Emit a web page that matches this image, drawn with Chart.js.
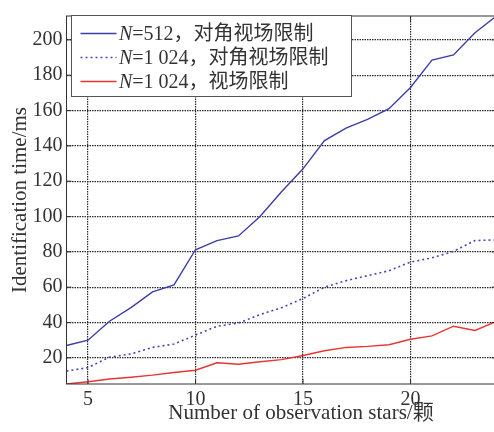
<!DOCTYPE html>
<html>
<head>
<meta charset="utf-8">
<script src="https://cdn.jsdelivr.net/npm/chart.js@4/dist/chart.umd.min.js"></script>
<style>
  html, body { margin: 0; padding: 0; background: #fff; overflow: hidden; }
  #wrap { width: 494px; height: 432px; overflow: hidden; }
  canvas { display: block; }
</style>
</head>
<body>
<div id="wrap"><canvas id="c" width="500" height="432"></canvas></div>
<script>
// Number of observed stars
const starCounts = [4, 5, 6, 7, 8, 9, 10, 11, 12, 13, 14, 15, 16, 17, 18, 19, 20, 21, 22, 23, 24];
// Identification time (ms), N=512 with diagonal field-of-view limit
const timeN512Diag = [27, 30, 40.7, 48.4, 57.3, 61.3, 81.2, 86.4, 89, 100, 114, 127, 143, 150, 155, 161, 173, 188.5, 191.5, 204, 213.5];
// Identification time (ms), N=1024 with diagonal field-of-view limit
const timeN1024Diag = [12.5, 14.5, 20.4, 22.2, 25.9, 27.8, 32.9, 37.9, 39.7, 44.5, 48.4, 53.6, 60, 63.7, 66.5, 69.3, 74.2, 76.6, 80.3, 86.4, 86.8];
// Identification time (ms), N=1024 with field-of-view limit
const timeN1024Fov = [5.2, 6.5, 8, 9, 10.2, 11.7, 13, 17.2, 16.4, 17.8, 19, 21.3, 24, 25.9, 26.5, 27.4, 30.5, 32.4, 37.9, 35.5, 40.7];

const seriesLabels = ['N=512，对角视场限制', 'N=1 024，对角视场限制', 'N=1 024，视场限制'];
const xTickValues = [5, 10, 15, 20];
const yTickValues = [20, 40, 60, 80, 100, 120, 140, 160, 180, 200];
const xRange = [4, 24];
const yRange = [5.2, 213.5];
const xTitle = 'Number of observation stars/颗';
const yTitle = 'Identification time/ms';

const SERIF = '"Liberation Serif", "Noto Sans CJK SC", serif';
const INK = '#333';

const toPoints = ys => starCounts.map((x, i) => ({ x, y: ys[i] }));

// Box around the axes with inward tick marks, drawn MATLAB-style
const axesBox = {
  id: 'axesBox',
  afterDatasetsDraw(chart) {
    const { ctx, chartArea: a, scales } = chart;
    ctx.save();
    ctx.strokeStyle = INK;
    ctx.lineWidth = 1;
    ctx.setLineDash([]);
    ctx.beginPath();
    xTickValues.forEach(v => {
      const px = scales.x.getPixelForValue(v);
      ctx.moveTo(px, a.bottom); ctx.lineTo(px, a.bottom - 5);
      ctx.moveTo(px, a.top); ctx.lineTo(px, a.top + 5);
    });
    yTickValues.forEach(v => {
      const py = scales.y.getPixelForValue(v);
      ctx.moveTo(a.left, py); ctx.lineTo(a.left + 5, py);
      ctx.moveTo(a.right, py); ctx.lineTo(a.right - 5, py);
    });
    ctx.stroke();
    ctx.strokeRect(a.left, a.top, a.right - a.left, a.bottom - a.top);
    ctx.restore();
  }
};

// Axis titles
const axisTitles = {
  id: 'axisTitles',
  afterDraw(chart) {
    const { ctx } = chart;
    ctx.save();
    ctx.fillStyle = INK;
    ctx.font = '21px ' + SERIF;
    ctx.textAlign = 'center';
    ctx.textBaseline = 'middle';
    ctx.fillText(xTitle, 301, 413);
    ctx.translate(20, 200);
    ctx.rotate(-Math.PI / 2);
    ctx.fillText(yTitle, 0, 0);
    ctx.restore();
  }
};

// Legend box with an italic "N" in each entry
const boxLegend = {
  id: 'boxLegend',
  afterDraw(chart) {
    const { ctx } = chart;
    const bx = 71.5, by = 15.5, bw = 280, bh = 81;
    ctx.save();
    ctx.fillStyle = '#fff';
    ctx.fillRect(bx, by, bw, bh);
    ctx.strokeStyle = '#555';
    ctx.lineWidth = 1;
    ctx.setLineDash([]);
    ctx.strokeRect(bx, by, bw, bh);
    chart.data.datasets.forEach((ds, i) => {
      const y = 33.5 + i * 24;
      ctx.beginPath();
      ctx.strokeStyle = ds.borderColor;
      ctx.lineWidth = ds.borderWidth;
      ctx.setLineDash(ds.borderDash || []);
      ctx.moveTo(80.5, y); ctx.lineTo(116.5, y);
      ctx.stroke();
      ctx.setLineDash([]);
      ctx.fillStyle = INK;
      ctx.textBaseline = 'middle';
      ctx.textAlign = 'left';
      const label = ds.label;
      ctx.font = 'italic 20px ' + SERIF;
      ctx.fillText(label[0], 119, y + 1);
      const w = ctx.measureText(label[0]).width;
      ctx.font = '20px ' + SERIF;
      ctx.fillText(label.slice(1), 119 + w, y + 1);
    });
    ctx.restore();
  }
};

new Chart(document.getElementById('c'), {
  type: 'line',
  data: {
    datasets: [
      { label: seriesLabels[0], data: toPoints(timeN512Diag), borderColor: '#3d3da8', borderWidth: 1.4 },
      { label: seriesLabels[1], data: toPoints(timeN1024Diag), borderColor: '#4848b0', borderWidth: 1.6, borderDash: [2, 3] },
      { label: seriesLabels[2], data: toPoints(timeN1024Fov), borderColor: '#e83530', borderWidth: 1.4 }
    ]
  },
  options: {
    responsive: false,
    animation: false,
    devicePixelRatio: 1,
    layout: { padding: { top: 7.3, right: 3.5, left: 0, bottom: 0 } },
    elements: { point: { radius: 0 }, line: { tension: 0, fill: false } },
    plugins: { legend: { display: false }, tooltip: { enabled: false } },
    scales: {
      x: {
        type: 'linear',
        min: xRange[0], max: xRange[1],
        afterBuildTicks: s => { s.ticks = xTickValues.map(v => ({ value: v })); },
        afterFit: s => { s.height = 48; },
        border: { display: false, dash: [1.5, 1] },
        grid: { color: '#2a2a2a', lineWidth: 1.2, drawTicks: false },
        ticks: { color: INK, font: { family: SERIF, size: 20 }, padding: 4, maxRotation: 0 }
      },
      y: {
        type: 'linear',
        min: yRange[0], max: yRange[1],
        afterBuildTicks: s => { s.ticks = yTickValues.map(v => ({ value: v })); },
        afterFit: s => { s.width = 66.5; },
        border: { display: false, dash: [1.5, 1] },
        grid: { color: '#2a2a2a', lineWidth: 1.2, drawTicks: false },
        ticks: { color: INK, font: { family: SERIF, size: 20 }, padding: 4 }
      }
    }
  },
  plugins: [axesBox, axisTitles, boxLegend]
});
</script>
</body>
</html>
